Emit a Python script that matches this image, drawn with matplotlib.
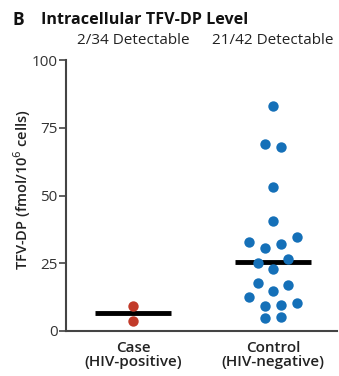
import matplotlib
matplotlib.use("Agg")
import matplotlib.pyplot as plt

plt.rcParams['font.family'] = ['Open Sans', 'DejaVu Sans']

categories = ["Case\n(HIV-positive)", "Control\n(HIV-negative)"]
detect_labels = ["2/34 Detectable", "21/42 Detectable"]
case_vals = [9.2, 3.7]
case_offsets = [0.0, 0.0]
control_vals = [83, 68.9, 67.8, 53, 40.6, 33, 34.8, 30.5, 32.1, 25, 26.5, 22.8,
                17.8, 17, 14.9, 12.4, 9.2, 9.6, 10.4, 4.7, 5.3]
control_offsets = [0, -0.06, 0.06, 0, 0, -0.17, 0.17, -0.06, 0.06, -0.11, 0.11, 0,
                   -0.11, 0.11, 0, -0.17, -0.06, 0.06, 0.17, -0.06, 0.06]
medians = [6.5, 25.6]
yticks = [0, 25, 50, 75, 100]

fig = plt.figure(figsize=(3.39, 3.76), dpi=100)
ax = fig.add_axes([66/339, 45/376, (337-66)/339, 271/376])

blue = "#1570b8"
red = "#c23b2a"
ax.scatter([0 + o for o in case_offsets], case_vals, s=56, color=red, zorder=3, linewidths=0)
ax.scatter([1 + o for o in control_offsets], control_vals, s=56, color=blue, zorder=3, linewidths=0)
for i, m in enumerate(medians):
    ax.plot([i - 0.27, i + 0.27], [m, m], color="black", lw=3.5, zorder=2, solid_capstyle='butt')

ax.set_xlim(-0.479, 1.457)
ax.set_ylim(0, 100)
ax.set_yticks(yticks)
ax.set_yticklabels([str(t) for t in yticks], fontsize=11, color="#333333")
ax.set_xticks([0, 1])
ax.set_xticklabels(categories, fontsize=11, fontweight='semibold', color="#222222", linespacing=1.05)
ax.tick_params(axis='x', length=0, pad=7)
ax.tick_params(axis='y', length=5, width=1.2, color="#444444", pad=1)
for s in ['top', 'right']:
    ax.spines[s].set_visible(False)
for s in ['left', 'bottom']:
    ax.spines[s].set_color("#444444")
    ax.spines[s].set_linewidth(1.5)

ax.set_ylabel("TFV-DP (fmol/10$^6$ cells)", fontsize=10.5, fontweight='semibold', color="#222222")
ax.yaxis.set_label_coords(-0.122, 0.52)

fig.text(13/339, 1 - 20/376, "B", fontsize=12.5, fontweight='bold', va='center', ha='left', color="#111111")
fig.text(41/339, 1 - 20/376, "Intracellular TFV-DP Level", fontsize=11.6, fontweight='bold', va='center', ha='left', color="#111111")
for i, t in enumerate(detect_labels):
    xpix = ax.transData.transform((i, 0))[0]
    fig.text(xpix / 339, 1 - 41/376, t, fontsize=11, va='center', ha='center', color="#222222")

fig.savefig("out.png", dpi=100)
